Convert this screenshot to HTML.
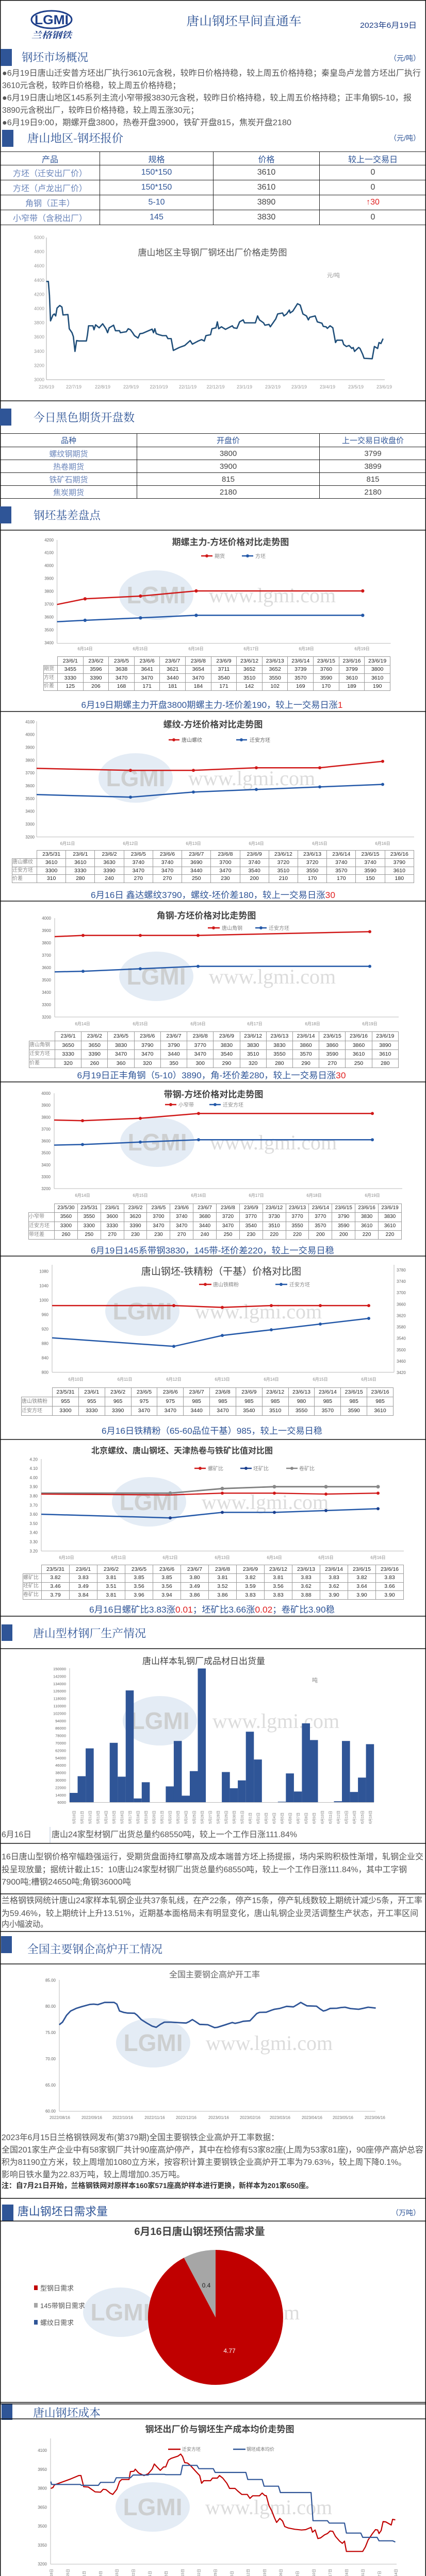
<!DOCTYPE html>
<html><head><meta charset="utf-8">
<style>
html{margin:0;padding:0;width:826px;height:5070px;overflow:hidden;background:#fff}
body{margin:0;padding:0;background:#fff;width:826px;height:5070px;position:relative;overflow:hidden;font-family:"Liberation Sans","Noto Sans CJK SC",sans-serif}
svg{position:absolute;left:0;top:0;display:block}
.t{position:absolute;border-collapse:collapse;table-layout:fixed;text-align:center}
.t td{border:1.5px solid #222;padding:0;white-space:nowrap;overflow:hidden}
.dt{position:absolute;border-collapse:collapse;table-layout:fixed;font-family:"Liberation Sans","Noto Sans CJK SC",sans-serif;font-size:10.5px;color:#222;text-align:center}
.dt td{border:1px solid #9a9a9a;padding:0;white-space:nowrap;overflow:hidden;line-height:1}
.dt tr:first-child td:first-child{border:none}
.dt td.l{color:#8a8a8a;text-align:left;font-size:10px}
</style></head><body>

<table class="t" style="left:0;top:294px;width:826px;font-size:16px">
<colgroup><col style="width:193px"><col style="width:220px"><col style="width:206px"><col style="width:207px"></colgroup>
<tr style="height:26px;color:#2f5597"><td>产品</td><td>规格</td><td>价格</td><td>较上一交易日</td></tr>
<tr style="height:29px"><td style="color:#6b86bb">方坯（迁安出厂价）</td><td style="color:#2f5597">150*150</td><td style="color:#444">3610</td><td style="color:#444">0</td></tr>
<tr style="height:29px"><td style="color:#6b86bb">方坯（卢龙出厂价）</td><td style="color:#2f5597">150*150</td><td style="color:#444">3610</td><td style="color:#444">0</td></tr>
<tr style="height:29px"><td style="color:#6b86bb">角钢（正丰）</td><td style="color:#2f5597">5-10</td><td style="color:#444">3890</td><td style="color:#e02020">↑30</td></tr>
<tr style="height:29px"><td style="color:#6b86bb">小窄带（含税出厂）</td><td style="color:#2f5597">145</td><td style="color:#444">3830</td><td style="color:#444">0</td></tr>
</table>

<table class="t" style="left:0;top:841px;width:826px;font-size:15px">
<colgroup><col style="width:265px"><col style="width:354px"><col style="width:207px"></colgroup>
<tr style="height:26px;color:#2f5597"><td>品种</td><td>开盘价</td><td>上一交易日收盘价</td></tr>
<tr style="height:25px"><td style="color:#6b86bb">螺纹钢期货</td><td style="color:#444">3800</td><td style="color:#444">3799</td></tr>
<tr style="height:25px"><td style="color:#6b86bb">热卷期货</td><td style="color:#444">3900</td><td style="color:#444">3899</td></tr>
<tr style="height:25px"><td style="color:#6b86bb">铁矿石期货</td><td style="color:#444">815</td><td style="color:#444">815</td></tr>
<tr style="height:25px"><td style="color:#6b86bb">焦炭期货</td><td style="color:#444">2180</td><td style="color:#444">2180</td></tr>
</table>

<table class="dt" style="left:84px;top:1274px;width:673px">
<colgroup><col style="width:27px"><col span="13"></colgroup>
<tr style="height:16.5px"><td></td><td>23/6/1</td><td>23/6/2</td><td>23/6/5</td><td>23/6/6</td><td>23/6/7</td><td>23/6/8</td><td>23/6/9</td><td>23/6/12</td><td>23/6/13</td><td>23/6/14</td><td>23/6/15</td><td>23/6/16</td><td>23/6/19</td></tr>
<tr style="height:16.5px"><td class="l">期货</td><td>3455</td><td>3596</td><td>3638</td><td>3641</td><td>3621</td><td>3654</td><td>3711</td><td>3652</td><td>3652</td><td>3739</td><td>3760</td><td>3799</td><td>3800</td></tr>
<tr style="height:16.5px"><td class="l">方坯</td><td>3330</td><td>3390</td><td>3470</td><td>3470</td><td>3440</td><td>3470</td><td>3540</td><td>3510</td><td>3550</td><td>3570</td><td>3590</td><td>3610</td><td>3610</td></tr>
<tr style="height:16.5px"><td class="l">价差</td><td>125</td><td>206</td><td>168</td><td>171</td><td>181</td><td>184</td><td>171</td><td>142</td><td>102</td><td>169</td><td>170</td><td>189</td><td>190</td></tr>
</table>

<table class="dt" style="left:23px;top:1650px;width:780px">
<colgroup><col style="width:48px"><col span="13"></colgroup>
<tr style="height:15.75px"><td></td><td>23/5/31</td><td>23/6/1</td><td>23/6/2</td><td>23/6/5</td><td>23/6/6</td><td>23/6/7</td><td>23/6/8</td><td>23/6/9</td><td>23/6/12</td><td>23/6/13</td><td>23/6/14</td><td>23/6/15</td><td>23/6/16</td></tr>
<tr style="height:15.75px"><td class="l">唐山螺纹</td><td>3610</td><td>3610</td><td>3630</td><td>3740</td><td>3740</td><td>3690</td><td>3700</td><td>3740</td><td>3720</td><td>3720</td><td>3740</td><td>3740</td><td>3790</td></tr>
<tr style="height:15.75px"><td class="l">迁安方坯</td><td>3300</td><td>3330</td><td>3390</td><td>3470</td><td>3470</td><td>3440</td><td>3470</td><td>3540</td><td>3510</td><td>3550</td><td>3570</td><td>3590</td><td>3610</td></tr>
<tr style="height:15.75px"><td class="l">价差</td><td>310</td><td>280</td><td>240</td><td>270</td><td>270</td><td>250</td><td>230</td><td>200</td><td>210</td><td>170</td><td>170</td><td>150</td><td>180</td></tr>
</table>

<table class="dt" style="left:56px;top:2002px;width:717px">
<colgroup><col style="width:50px"><col span="13"></colgroup>
<tr style="height:17.5px"><td></td><td>23/6/1</td><td>23/6/2</td><td>23/6/5</td><td>23/6/6</td><td>23/6/7</td><td>23/6/8</td><td>23/6/9</td><td>23/6/12</td><td>23/6/13</td><td>23/6/14</td><td>23/6/15</td><td>23/6/16</td><td>23/6/19</td></tr>
<tr style="height:17.5px"><td class="l">唐山角钢</td><td>3650</td><td>3650</td><td>3830</td><td>3790</td><td>3790</td><td>3770</td><td>3830</td><td>3830</td><td>3830</td><td>3860</td><td>3860</td><td>3860</td><td>3890</td></tr>
<tr style="height:17.5px"><td class="l">迁安方坯</td><td>3330</td><td>3390</td><td>3470</td><td>3470</td><td>3440</td><td>3470</td><td>3540</td><td>3510</td><td>3550</td><td>3570</td><td>3590</td><td>3610</td><td>3610</td></tr>
<tr style="height:17.5px"><td class="l">价差</td><td>320</td><td>260</td><td>360</td><td>320</td><td>350</td><td>300</td><td>290</td><td>320</td><td>280</td><td>290</td><td>270</td><td>250</td><td>280</td></tr>
</table>

<table class="dt" style="left:55px;top:2336px;width:724px;font-size:10px">
<colgroup><col style="width:50px"><col span="15"></colgroup>
<tr style="height:17.25px"><td></td><td>23/5/30</td><td>23/5/31</td><td>23/6/1</td><td>23/6/2</td><td>23/6/5</td><td>23/6/6</td><td>23/6/7</td><td>23/6/8</td><td>23/6/9</td><td>23/6/12</td><td>23/6/13</td><td>23/6/14</td><td>23/6/15</td><td>23/6/16</td><td>23/6/19</td></tr>
<tr style="height:17.25px"><td class="l">小窄带</td><td>3560</td><td>3550</td><td>3600</td><td>3620</td><td>3700</td><td>3740</td><td>3680</td><td>3720</td><td>3770</td><td>3730</td><td>3770</td><td>3770</td><td>3790</td><td>3830</td><td>3830</td></tr>
<tr style="height:17.25px"><td class="l">迁安方坯</td><td>3300</td><td>3300</td><td>3330</td><td>3390</td><td>3470</td><td>3470</td><td>3440</td><td>3470</td><td>3540</td><td>3510</td><td>3550</td><td>3570</td><td>3590</td><td>3610</td><td>3610</td></tr>
<tr style="height:17.25px"><td class="l">带坯差</td><td>260</td><td>250</td><td>270</td><td>230</td><td>230</td><td>270</td><td>240</td><td>250</td><td>230</td><td>220</td><td>220</td><td>200</td><td>200</td><td>220</td><td>220</td></tr>
</table>

<table class="dt" style="left:41px;top:2693px;width:722px">
<colgroup><col style="width:60px"><col span="13"></colgroup>
<tr style="height:18px"><td></td><td>23/5/31</td><td>23/6/1</td><td>23/6/2</td><td>23/6/5</td><td>23/6/6</td><td>23/6/7</td><td>23/6/8</td><td>23/6/9</td><td>23/6/12</td><td>23/6/13</td><td>23/6/14</td><td>23/6/15</td><td>23/6/16</td></tr>
<tr style="height:18px"><td class="l">唐山铁精粉</td><td>955</td><td>955</td><td>965</td><td>975</td><td>975</td><td>985</td><td>985</td><td>985</td><td>985</td><td>980</td><td>985</td><td>985</td><td>985</td></tr>
<tr style="height:18px"><td class="l">迁安方坯</td><td>3300</td><td>3330</td><td>3390</td><td>3470</td><td>3470</td><td>3440</td><td>3470</td><td>3540</td><td>3510</td><td>3550</td><td>3570</td><td>3590</td><td>3610</td></tr>
</table>

<table class="dt" style="left:44px;top:3037px;width:739px">
<colgroup><col style="width:36px"><col span="13"></colgroup>
<tr style="height:16.75px"><td></td><td>23/5/31</td><td>23/6/1</td><td>23/6/2</td><td>23/6/5</td><td>23/6/6</td><td>23/6/7</td><td>23/6/8</td><td>23/6/9</td><td>23/6/12</td><td>23/6/13</td><td>23/6/14</td><td>23/6/15</td><td>23/6/16</td></tr>
<tr style="height:16.75px"><td class="l">螺矿比</td><td>3.82</td><td>3.83</td><td>3.81</td><td>3.85</td><td>3.85</td><td>3.80</td><td>3.81</td><td>3.82</td><td>3.81</td><td>3.83</td><td>3.83</td><td>3.82</td><td>3.83</td></tr>
<tr style="height:16.75px"><td class="l">坯矿比</td><td>3.46</td><td>3.49</td><td>3.51</td><td>3.56</td><td>3.56</td><td>3.49</td><td>3.52</td><td>3.59</td><td>3.56</td><td>3.62</td><td>3.62</td><td>3.64</td><td>3.66</td></tr>
<tr style="height:16.75px"><td class="l">卷矿比</td><td>3.79</td><td>3.84</td><td>3.81</td><td>3.96</td><td>3.94</td><td>3.86</td><td>3.86</td><td>3.83</td><td>3.83</td><td>3.88</td><td>3.90</td><td>3.90</td><td>3.90</td></tr>
</table>

<svg width="826" height="5070" viewBox="0 0 826 5070" xmlns="http://www.w3.org/2000/svg" font-family="Liberation Sans, Noto Sans CJK SC, sans-serif" style="pointer-events:none" overflow="hidden">
<defs>
<g id="wm">
<ellipse cx="0" cy="0" rx="72" ry="48" fill="#dbe6f2" opacity="0.75"/>
<text x="0" y="16" text-anchor="middle" font-size="46" font-weight="bold" fill="#c8c8c8" opacity="0.8">LGMI</text>
<text x="225" y="14" text-anchor="middle" font-family="Liberation Serif, serif" font-size="40" fill="#d4d4d4" opacity="0.8">www.lgmi.com</text>
</g>
</defs>
<rect x="0.75" y="0.75" width="824.5" height="5068.5" fill="none" stroke="#111" stroke-width="1.5"/>

<ellipse cx="100" cy="38" rx="39" ry="17" fill="none" stroke="#1e3f8a" stroke-width="3"/>
<text x="100" y="47" text-anchor="middle" font-size="25" font-weight="bold" fill="#1e3f8a" textLength="66" lengthAdjust="spacingAndGlyphs">LGMI</text>
<text x="100" y="74" text-anchor="middle" font-family="Noto Serif CJK SC, serif" font-size="17" font-weight="bold" font-style="italic" fill="#1e3f8a" textLength="78" lengthAdjust="spacingAndGlyphs">兰格钢铁</text>
<text x="473" y="49" text-anchor="middle" font-family="Noto Serif CJK SC, serif" font-size="24" fill="#2f5597" textLength="223" lengthAdjust="spacingAndGlyphs">唐山钢坯早间直通车</text>
<text x="808" y="54" text-anchor="end" font-size="15" fill="#1f3f86" textLength="110" lengthAdjust="spacingAndGlyphs">2023年6月19日</text>

<g fill="#2f5597">
<rect x="1" y="95" width="22" height="33"/>
<rect x="4" y="252" width="22" height="33"/>
<rect x="0" y="793" width="22" height="33"/>
<rect x="0" y="983" width="22" height="33"/>
<rect x="3" y="3153" width="21" height="32"/>
<rect x="2" y="3758" width="21" height="33"/>
<rect x="4" y="4279" width="22" height="32"/>
<rect x="3" y="4665" width="21" height="32"/>
</g>
<g font-family="Noto Serif CJK SC, serif" font-size="22" fill="#2f5597">
<text x="42" y="119" textLength="129" lengthAdjust="spacingAndGlyphs">钢坯市场概况</text>
<text x="53" y="276" textLength="186" lengthAdjust="spacingAndGlyphs">唐山地区-钢坯报价</text>
<text x="65" y="818" textLength="196" lengthAdjust="spacingAndGlyphs">今日黑色期货开盘数</text>
<text x="65" y="1008" textLength="130" lengthAdjust="spacingAndGlyphs">钢坯基差盘点</text>
<text x="64" y="3178" textLength="219" lengthAdjust="spacingAndGlyphs">唐山型材钢厂生产情况</text>
<text x="53" y="3791" textLength="262" lengthAdjust="spacingAndGlyphs">全国主要钢企高炉开工情况</text>
<text x="34" y="4300" font-family="Liberation Sans, Noto Sans CJK SC, sans-serif" textLength="175" lengthAdjust="spacingAndGlyphs">唐山钢坯日需求量</text>
<text x="64" y="4691" textLength="131" lengthAdjust="spacingAndGlyphs">唐山钢坯成本</text>
</g>
<g font-size="14" fill="#2f5597" text-anchor="end">
<text x="815" y="118">（元/吨）</text>
<text x="815" y="273">（元/吨）</text>
<text x="815" y="4300">（万吨）</text>
</g>

<g font-size="16" fill="#555">
<text x="4" y="147" textLength="812" lengthAdjust="spacingAndGlyphs">●6月19日唐山迁安普方坯出厂执行3610元含税，较昨日价格持稳，较上周五价格持稳；秦皇岛卢龙普方坯出厂执行</text>
<text x="4" y="171" textLength="346" lengthAdjust="spacingAndGlyphs">3610元含税，较昨日价格稳，较上周五价格持稳；</text>
<text x="4" y="195" textLength="794" lengthAdjust="spacingAndGlyphs">●6月19日唐山地区145系列主流小窄带报3830元含税，较昨日价格持稳，较上周五价格持稳；正丰角钢5-10，报</text>
<text x="4" y="219" textLength="381" lengthAdjust="spacingAndGlyphs">3890元含税出厂，较昨日价格持稳，较上周五涨30元；</text>
<text x="4" y="243" textLength="561" lengthAdjust="spacingAndGlyphs">●6月19日9:00，期螺开盘3800，热卷开盘3900，铁矿开盘815，焦炭开盘2180</text>
</g>

<g stroke="#111" stroke-width="1.5">
<line x1="0" y1="778" x2="826" y2="778"/>
<line x1="0" y1="1029" x2="826" y2="1029"/>
<line x1="0" y1="1381" x2="826" y2="1381"/>
<line x1="0" y1="1749" x2="826" y2="1749"/>
<line x1="0" y1="2100" x2="826" y2="2100"/>
<line x1="0" y1="2438" x2="826" y2="2438"/>
<line x1="0" y1="2794" x2="826" y2="2794"/>
<line x1="0" y1="3137" x2="826" y2="3137"/>
<line x1="0" y1="3200" x2="826" y2="3200"/>
<line x1="0" y1="3578" x2="826" y2="3578"/>
<line x1="0" y1="3676" x2="826" y2="3676"/>
<line x1="0" y1="3749" x2="826" y2="3749"/>
<line x1="0" y1="3812" x2="826" y2="3812"/>
<line x1="0" y1="4267" x2="826" y2="4267"/>
<line x1="0" y1="4311" x2="826" y2="4311"/>
<line x1="0" y1="4663" x2="826" y2="4663"/>
<line x1="0" y1="4666" x2="826" y2="4666"/>
<line x1="0" y1="4695" x2="826" y2="4695"/>
</g>

<g font-size="9" fill="#999" text-anchor="end">
<text x="86" y="464">5000</text><text x="86" y="491.6">4800</text><text x="86" y="519.2">4600</text><text x="86" y="546.8">4400</text><text x="86" y="574.4">4200</text><text x="86" y="602">4000</text><text x="86" y="629.6">3800</text><text x="86" y="657.2">3600</text><text x="86" y="684.8">3400</text><text x="86" y="712.4">3200</text><text x="86" y="740">3000</text>
</g>
<g font-size="9" fill="#999" text-anchor="middle">
<text x="90" y="754">22/6/19</text><text x="143" y="754">22/7/19</text><text x="199" y="754">22/8/19</text><text x="254" y="754">22/9/19</text><text x="308" y="754">22/10/19</text><text x="364" y="754">22/11/19</text><text x="418" y="754">22/12/19</text><text x="474" y="754">23/1/19</text><text x="529" y="754">23/2/19</text><text x="580" y="754">23/3/19</text><text x="635" y="754">23/4/19</text><text x="690" y="754">23/5/19</text><text x="745" y="754">23/6/19</text>
</g>
<text x="412" y="496" text-anchor="middle" font-size="17" fill="#555">唐山地区主导钢厂钢坯出厂价格走势图</text>
<text x="634" y="538" font-size="11" fill="#999">元/吨</text>
<g stroke="#aaa" stroke-width="1">
<line x1="90" y1="461" x2="90" y2="737"/><line x1="90" y1="737" x2="746" y2="737"/>
</g>
<g transform="translate(0,420) scale(0.52679,0.38265)">
<polyline vector-effect="non-scaling-stroke" fill="none" stroke="#1f4e79" stroke-width="2.6" stroke-linejoin="round" points="170,330 178,330 182,400 186,530 195,500 200,495 205,505 210,465 220,452 228,460 232,500 250,498 255,570 265,590 270,610 276,685 282,630 290,632 318,632 322,600 326,555 342,555 346,575 352,550 365,565 378,545 390,570 396,590 402,565 418,552 425,580 440,580 443,590 465,585 472,570 480,575 488,590 495,605 508,617 515,595 525,593 560,572 565,590 570,570 575,595 585,600 598,605 612,605 618,620 630,620 638,680 660,665 680,655 700,630 708,648 730,632 742,625 752,632 758,605 775,600 780,570 795,565 800,535 805,570 815,560 830,573 855,555 860,565 872,568 882,535 895,525 900,540 940,540 948,505 955,525 970,540 975,552 990,548 995,560 1005,540 1015,520 1022,495 1040,490 1045,505 1055,495 1065,475 1068,490 1078,480 1085,465 1095,443 1105,450 1115,495 1128,505 1135,525 1140,512 1160,505 1168,535 1185,542 1190,558 1200,560 1205,568 1215,555 1225,565 1235,640 1240,628 1260,628 1265,650 1275,660 1285,655 1295,670 1300,665 1305,685 1320,665 1325,670 1335,700 1340,720 1370,722 1378,660 1390,670 1395,640 1402,645 1410,620"/>
</g>

<use href="#wm" x="303" y="1155"/>
<text x="447" y="1058" text-anchor="middle" font-size="17" font-weight="bold" fill="#444">期螺主力-方坯价格对比走势图</text>
<g font-size="8" fill="#666" text-anchor="end">
<text x="104" y="1051">4200</text><text x="104" y="1075.3">4100</text><text x="104" y="1100.7">4000</text><text x="104" y="1125.7">3900</text><text x="104" y="1150.3">3800</text><text x="104" y="1175.7">3700</text><text x="104" y="1200.3">3600</text><text x="104" y="1225.7">3500</text><text x="104" y="1250.7">3400</text>
</g>
<g font-size="8" fill="#888" text-anchor="middle">
<text x="165" y="1262">6月14日</text><text x="272" y="1262">6月15日</text><text x="380" y="1262">6月16日</text><text x="487" y="1262">6月17日</text><text x="594" y="1262">6月18日</text><text x="702" y="1262">6月19日</text>
</g>
<line x1="390" y1="1079" x2="412" y2="1079" stroke="#d01818" stroke-width="2.5"/><circle cx="401" cy="1079" r="3" fill="#d01818"/>
<text x="416" y="1083" font-size="10" fill="#888">期货</text>
<line x1="469" y1="1079" x2="491" y2="1079" stroke="#2358a8" stroke-width="2.5"/><circle cx="480" cy="1079" r="3" fill="#2358a8"/>
<text x="495" y="1083" font-size="10" fill="#888">方坯</text>
<g stroke="#bbb" stroke-width="1"><line x1="110.6" y1="1048" x2="110.6" y2="1248.7"/><line x1="110.6" y1="1248.7" x2="757.5" y2="1248.7"/></g>
<polyline fill="none" stroke="#d01818" stroke-width="2.5" points="110.6,1173.3 164.9,1162.3 272.4,1157 380.4,1147 703.3,1147"/>
<polyline fill="none" stroke="#2358a8" stroke-width="2.5" points="110.6,1206.7 164.9,1204 272.4,1199.3 380.4,1194.3 703.3,1194.3"/>
<g fill="#d01818"><circle cx="164.9" cy="1162.3" r="3.2"/><circle cx="272.4" cy="1157" r="3.2"/><circle cx="380.4" cy="1147" r="3.2"/><circle cx="703.3" cy="1147" r="3.2"/></g>
<g fill="#2358a8"><circle cx="164.9" cy="1204" r="3.2"/><circle cx="272.4" cy="1199.3" r="3.2"/><circle cx="380.4" cy="1194.3" r="3.2"/><circle cx="703.3" cy="1194.3" r="3.2"/></g>
<text x="411" y="1374" text-anchor="middle" font-size="17" fill="#2f5597" textLength="507" lengthAdjust="spacingAndGlyphs">6月19日期螺主力开盘3800期螺主力-坯价差190，较上一交易日涨<tspan fill="#e02020">1</tspan></text>

<use href="#wm" x="263" y="1510"/>
<text x="413" y="1412" text-anchor="middle" font-size="17" font-weight="bold" fill="#444">螺纹-方坯价格对比走势图</text>
<g font-size="8" fill="#666" text-anchor="end">
<text x="67" y="1403.8">4100</text><text x="67" y="1428.6">4000</text><text x="67" y="1453.5">3900</text><text x="67" y="1478.3">3800</text><text x="67" y="1503.1">3700</text><text x="67" y="1528">3600</text><text x="67" y="1552.8">3500</text><text x="67" y="1577.7">3400</text><text x="67" y="1602.5">3300</text><text x="67" y="1627.3">3200</text>
</g>
<g font-size="8" fill="#888" text-anchor="middle">
<text x="131" y="1640">6月11日</text><text x="253" y="1640">6月12日</text><text x="375" y="1640">6月13日</text><text x="497" y="1640">6月14日</text><text x="620" y="1640">6月15日</text><text x="742" y="1640">6月16日</text>
</g>
<line x1="327" y1="1436" x2="348" y2="1436" stroke="#d01818" stroke-width="2.5"/><circle cx="337" cy="1436" r="3" fill="#d01818"/>
<text x="352" y="1440" font-size="10" fill="#666">唐山螺纹</text>
<line x1="458" y1="1436" x2="479" y2="1436" stroke="#2358a8" stroke-width="2.5"/><circle cx="468" cy="1436" r="3" fill="#2358a8"/>
<text x="484" y="1440" font-size="10" fill="#666">迁安方坯</text>
<g stroke="#bbb" stroke-width="1"><line x1="71" y1="1400" x2="71" y2="1624.5"/><line x1="71" y1="1624.5" x2="803" y2="1624.5"/></g>
<polyline fill="none" stroke="#d01818" stroke-width="2.5" points="71,1491.4 253,1495.2 375,1495.2 497,1490.2 620,1490.2 742,1477.8"/>
<polyline fill="none" stroke="#2358a8" stroke-width="2.5" points="71,1542.3 253,1547.3 375,1537.4 497,1532.4 620,1527.4 742,1522.5"/>
<g fill="#d01818"><circle cx="253" cy="1495.2" r="3"/><circle cx="375" cy="1495.2" r="3"/><circle cx="497" cy="1490.2" r="3"/><circle cx="620" cy="1490.2" r="3"/><circle cx="742" cy="1477.8" r="3"/></g>
<g fill="#2358a8"><circle cx="253" cy="1547.3" r="3"/><circle cx="375" cy="1537.4" r="3"/><circle cx="497" cy="1532.4" r="3"/><circle cx="620" cy="1527.4" r="3"/><circle cx="742" cy="1522.5" r="3"/></g>
<text x="413" y="1743" text-anchor="middle" font-size="17" fill="#2f5597" textLength="474" lengthAdjust="spacingAndGlyphs">6月16日 鑫达螺纹3790，螺纹-坯价差180，较上一交易日涨<tspan fill="#e02020">30</tspan></text>

<use href="#wm" x="303" y="1895"/>
<text x="400" y="1783" text-anchor="middle" font-size="17" font-weight="bold" fill="#444">角钢-方坯价格对比走势图</text>
<g font-size="8" fill="#666" text-anchor="end">
<text x="99" y="1785">4000</text><text x="99" y="1809">3900</text><text x="99" y="1833">3800</text><text x="99" y="1857">3700</text><text x="99" y="1881">3600</text><text x="99" y="1905">3500</text><text x="99" y="1929">3400</text><text x="99" y="1953">3300</text><text x="99" y="1977">3200</text>
</g>
<g font-size="8" fill="#888" text-anchor="middle">
<text x="160" y="1990">6月14日</text><text x="272" y="1990">6月15日</text><text x="384" y="1990">6月16日</text><text x="494" y="1990">6月17日</text><text x="606" y="1990">6月18日</text><text x="717" y="1990">6月19日</text>
</g>
<line x1="403" y1="1801" x2="426" y2="1801" stroke="#d01818" stroke-width="2.5"/><circle cx="414" cy="1801" r="3" fill="#d01818"/>
<text x="430" y="1805" font-size="10" fill="#888">唐山角钢</text>
<line x1="495" y1="1801" x2="517" y2="1801" stroke="#2358a8" stroke-width="2.5"/><circle cx="506" cy="1801" r="3" fill="#2358a8"/>
<text x="521" y="1805" font-size="10" fill="#888">迁安方坯</text>
<g stroke="#bbb" stroke-width="1"><line x1="106" y1="1782" x2="106" y2="1974"/><line x1="106" y1="1974" x2="773" y2="1974"/></g>
<polyline fill="none" stroke="#d01818" stroke-width="2.5" points="106,1818 161,1815.6 272,1815.6 384,1815.6 717,1808.4"/>
<polyline fill="none" stroke="#2358a8" stroke-width="2.5" points="106,1886.4 161,1885.2 272,1880.4 384,1875.6 717,1875.6"/>
<g fill="#d01818"><circle cx="161" cy="1815.6" r="3"/><circle cx="272" cy="1815.6" r="3"/><circle cx="384" cy="1815.6" r="3"/><circle cx="717" cy="1808.4" r="3"/></g>
<g fill="#2358a8"><circle cx="161" cy="1885.2" r="3"/><circle cx="272" cy="1880.4" r="3"/><circle cx="384" cy="1875.6" r="3"/><circle cx="717" cy="1875.6" r="3"/></g>
<text x="410" y="2093" text-anchor="middle" font-size="17" fill="#2f5597" textLength="521" lengthAdjust="spacingAndGlyphs">6月19日正丰角钢（5-10）3890，角-坯价差280，较上一交易日涨<tspan fill="#e02020">30</tspan></text>

<use href="#wm" x="305" y="2217"/>
<text x="414" y="2130" text-anchor="middle" font-size="17" font-weight="bold" fill="#444">带钢-方坯价格对比走势图</text>
<g font-size="8" fill="#666" text-anchor="end">
<text x="98" y="2125">4000</text><text x="98" y="2148.1">3900</text><text x="98" y="2171.3">3800</text><text x="98" y="2194.4">3700</text><text x="98" y="2217.5">3600</text><text x="98" y="2240.7">3500</text><text x="98" y="2263.8">3400</text><text x="98" y="2286.9">3300</text><text x="98" y="2310">3200</text>
</g>
<g font-size="8" fill="#888" text-anchor="middle">
<text x="160" y="2323">6月14日</text><text x="272" y="2323">6月15日</text><text x="385" y="2323">6月16日</text><text x="497" y="2323">6月17日</text><text x="609" y="2323">6月18日</text><text x="722" y="2323">6月19日</text>
</g>
<line x1="320" y1="2144" x2="342" y2="2144" stroke="#d01818" stroke-width="2.5"/><circle cx="331" cy="2144" r="3" fill="#d01818"/>
<text x="346" y="2148" font-size="10" fill="#888">小窄带</text>
<line x1="406" y1="2144" x2="428" y2="2144" stroke="#2358a8" stroke-width="2.5"/><circle cx="417" cy="2144" r="3" fill="#2358a8"/>
<text x="432" y="2148" font-size="10" fill="#888">迁安方坯</text>
<g stroke="#bbb" stroke-width="1"><line x1="105" y1="2122" x2="105" y2="2307"/><line x1="105" y1="2307" x2="780" y2="2307"/></g>
<polyline fill="none" stroke="#d01818" stroke-width="2.5" points="105,2174 160,2175.2 272,2170.6 385,2161.3 722,2161.3"/>
<polyline fill="none" stroke="#2358a8" stroke-width="2.5" points="105,2222.6 160,2221.5 272,2216.8 385,2212.2 722,2212.2"/>
<g fill="#d01818"><circle cx="160" cy="2175.2" r="3"/><circle cx="272" cy="2170.6" r="3"/><circle cx="385" cy="2161.3" r="3"/><circle cx="722" cy="2161.3" r="3"/></g>
<g fill="#2358a8"><circle cx="160" cy="2221.5" r="3"/><circle cx="272" cy="2216.8" r="3"/><circle cx="385" cy="2212.2" r="3"/><circle cx="722" cy="2212.2" r="3"/></g>
<text x="412" y="2433" text-anchor="middle" font-size="17" fill="#2f5597" textLength="472" lengthAdjust="spacingAndGlyphs">6月19日145系带钢3830，145带-坯价差220，较上一交易日稳</text>

<use href="#wm" x="276" y="2545"/>
<text x="429" y="2474" text-anchor="middle" font-size="19" fill="#444">唐山钢坯-铁精粉（干基）价格对比图</text>
<g font-size="8" fill="#666" text-anchor="end">
<text x="94" y="2470.7">1080</text><text x="94" y="2498.6">1040</text><text x="94" y="2526.6">1000</text><text x="94" y="2554.5">960</text><text x="94" y="2582.5">920</text><text x="94" y="2610.4">880</text><text x="94" y="2638.4">840</text><text x="94" y="2666.3">800</text>
</g>
<g font-size="8" fill="#666">
<text x="769" y="2468">3780</text><text x="769" y="2490.1">3740</text><text x="769" y="2512.2">3700</text><text x="769" y="2534.3">3660</text><text x="769" y="2556.4">3620</text><text x="769" y="2578.6">3580</text><text x="769" y="2600.7">3540</text><text x="769" y="2622.8">3500</text><text x="769" y="2644.9">3460</text><text x="769" y="2667">3420</text>
</g>
<g font-size="8" fill="#888" text-anchor="middle">
<text x="147" y="2680">6月10日</text><text x="242" y="2680">6月11日</text><text x="337" y="2680">6月12日</text><text x="431" y="2680">6月13日</text><text x="526" y="2680">6月14日</text><text x="621" y="2680">6月15日</text><text x="715" y="2680">6月16日</text>
</g>
<line x1="386" y1="2493" x2="410" y2="2493" stroke="#d01818" stroke-width="2.5"/><circle cx="398" cy="2493" r="3" fill="#d01818"/>
<text x="413" y="2497" font-size="10" fill="#888">唐山铁精粉</text>
<line x1="534" y1="2493" x2="557" y2="2493" stroke="#2358a8" stroke-width="2.5"/><circle cx="545" cy="2493" r="3" fill="#2358a8"/>
<text x="561" y="2497" font-size="10" fill="#888">迁安方坯</text>
<g stroke="#bbb" stroke-width="1"><line x1="101" y1="2455" x2="101" y2="2663.5"/><line x1="101" y1="2663.5" x2="764" y2="2663.5"/><line x1="764" y1="2455" x2="764" y2="2663.5"/></g>
<polyline fill="none" stroke="#d01818" stroke-width="2.5" points="101,2534.1 337,2534.1 431,2537.6 526,2534.1 621,2534.1 715,2534.1"/>
<polyline fill="none" stroke="#2358a8" stroke-width="2.5" points="101,2596.7 337,2613.3 431,2592.1 526,2581.1 621,2570 715,2559"/>
<g fill="#d01818"><circle cx="337" cy="2534.1" r="3"/><circle cx="431" cy="2537.6" r="3"/><circle cx="526" cy="2534.1" r="3"/><circle cx="621" cy="2534.1" r="3"/><circle cx="715" cy="2534.1" r="3"/></g>
<g fill="#2358a8"><circle cx="337" cy="2613.3" r="3"/><circle cx="431" cy="2592.1" r="3"/><circle cx="526" cy="2581.1" r="3"/><circle cx="621" cy="2570" r="3"/><circle cx="715" cy="2559" r="3"/></g>
<text x="411" y="2783" text-anchor="middle" font-size="17" fill="#2f5597" textLength="428" lengthAdjust="spacingAndGlyphs">6月16日铁精粉（65-60品位干基）985，较上一交易日稳</text>

<use href="#wm" x="289" y="2915"/>
<text x="353" y="2821" text-anchor="middle" font-size="16" font-weight="bold" fill="#444">北京螺纹、唐山钢坯、天津热卷与铁矿比值对比图</text>
<g font-size="8" fill="#666" text-anchor="end">
<text x="73" y="2835.3">4.20</text><text x="73" y="2853.1">4.10</text><text x="73" y="2870.9">4.00</text><text x="73" y="2888.7">3.90</text><text x="73" y="2906.5">3.80</text><text x="73" y="2924.3">3.70</text><text x="73" y="2942.1">3.60</text><text x="73" y="2959.9">3.50</text><text x="73" y="2977.7">3.40</text><text x="73" y="2995.5">3.30</text><text x="73" y="3013.3">3.20</text>
</g>
<g font-size="8" fill="#888" text-anchor="middle">
<text x="129" y="3026">6月10日</text><text x="230" y="3026">6月11日</text><text x="330" y="3026">6月12日</text><text x="431" y="3026">6月13日</text><text x="532" y="3026">6月14日</text><text x="632" y="3026">6月15日</text><text x="733" y="3026">6月16日</text>
</g>
<line x1="377" y1="2850" x2="399" y2="2850" stroke="#d01818" stroke-width="2.5"/><circle cx="388" cy="2850" r="3" fill="#d01818"/>
<text x="403" y="2854" font-size="10" fill="#888">螺矿比</text>
<line x1="466" y1="2850" x2="488" y2="2850" stroke="#1a3f8e" stroke-width="2.5"/><circle cx="477" cy="2850" r="3" fill="#1a3f8e"/>
<text x="491" y="2854" font-size="10" fill="#888">坯矿比</text>
<line x1="555" y1="2850" x2="577" y2="2850" stroke="#888" stroke-width="2.5"/><circle cx="566" cy="2850" r="3" fill="#888"/>
<text x="580" y="2854" font-size="10" fill="#888">卷矿比</text>
<g stroke="#bbb" stroke-width="1"><line x1="80" y1="2832" x2="80" y2="3010.5"/><line x1="80" y1="3010.5" x2="783" y2="3010.5"/></g>
<polyline fill="none" stroke="#808080" stroke-width="2.8" points="80,2898.2 330,2898.2 431,2889.3 532,2885.7 632,2885.7 733,2885.7"/>
<polyline fill="none" stroke="#d01818" stroke-width="2.3" points="80,2900 330,2901.7 431,2898.2 532,2898.2 632,2900 733,2898.2"/>
<polyline fill="none" stroke="#2358a8" stroke-width="2.5" points="80,2939.1 330,2946.2 431,2935.5 532,2935.5 632,2932 733,2928.4"/>
<g fill="#888"><circle cx="330" cy="2898.2" r="3.5"/><circle cx="431" cy="2889.3" r="3.5"/><circle cx="532" cy="2885.7" r="3.5"/><circle cx="632" cy="2885.7" r="3.5"/><circle cx="733" cy="2885.7" r="3.5"/></g>
<g fill="#d01818"><circle cx="431" cy="2898.2" r="3"/><circle cx="532" cy="2898.2" r="3"/><circle cx="632" cy="2900" r="3"/><circle cx="733" cy="2898.2" r="3"/></g>
<g fill="#1a3f8e"><circle cx="330" cy="2946.2" r="3"/><circle cx="431" cy="2935.5" r="3"/><circle cx="532" cy="2935.5" r="3"/><circle cx="632" cy="2932" r="3"/><circle cx="733" cy="2928.4" r="3"/></g>
<text x="411" y="3130" text-anchor="middle" font-size="17" fill="#2f5597" textLength="476" lengthAdjust="spacingAndGlyphs">6月16日螺矿比3.83涨<tspan fill="#e02020">0.01</tspan>；坯矿比3.66涨<tspan fill="#e02020">0.02</tspan>；卷矿比3.90稳</text>

<use href="#wm" x="310" y="3340"/>
<text x="395" y="3230" text-anchor="middle" font-size="17" fill="#444">唐山样本轧钢厂成品材日出货量</text>
<text x="605" y="3265" font-size="11" fill="#888">吨</text>
<g font-size="7.5" fill="#666" text-anchor="end">
<text x="128" y="3242">150000</text><text x="128" y="3256.4">142000</text><text x="128" y="3270.8">134000</text><text x="128" y="3285.2">126000</text><text x="128" y="3299.6">118000</text><text x="128" y="3314">110000</text><text x="128" y="3328.4">102000</text><text x="128" y="3342.8">94000</text><text x="128" y="3357.2">86000</text><text x="128" y="3371.6">78000</text><text x="128" y="3386">70000</text><text x="128" y="3400.4">62000</text><text x="128" y="3414.8">54000</text><text x="128" y="3429.2">46000</text><text x="128" y="3443.6">38000</text><text x="128" y="3458">30000</text><text x="128" y="3472.4">22000</text><text x="128" y="3486.8">14000</text><text x="128" y="3501">6000</text>
</g>
<g stroke="#bbb" stroke-width="1"><line x1="135" y1="3238" x2="135" y2="3498.5"/><line x1="135" y1="3498.5" x2="725" y2="3498.5"/></g>
<g fill="#2f5597">
<rect x="135" y="3480" width="15.6" height="18"/>
<rect x="150.5" y="3447.6" width="15.6" height="50.4"/>
<rect x="166.1" y="3393.6" width="15.6" height="104.4"/>
<rect x="212.7" y="3382.8" width="15.6" height="115.2"/>
<rect x="228.2" y="3448.5" width="15.6" height="49.5"/>
<rect x="243.7" y="3281.1" width="15.6" height="216.9"/>
<rect x="259.2" y="3490.8" width="15.6" height="7.2"/>
<rect x="274.8" y="3459.3" width="15.6" height="38.7"/>
<rect x="321.4" y="3467.4" width="15.6" height="30.6"/>
<rect x="336.9" y="3379.2" width="15.6" height="118.8"/>
<rect x="352.4" y="3485.4" width="15.6" height="12.6"/>
<rect x="368" y="3437.7" width="15.6" height="60.3"/>
<rect x="383.5" y="3238.5" width="15.6" height="259.5"/>
<rect x="430.1" y="3439.5" width="15.6" height="58.5"/>
<rect x="445.6" y="3471" width="15.6" height="27"/>
<rect x="461.1" y="3455.7" width="15.6" height="42.3"/>
<rect x="476.7" y="3361.2" width="15.6" height="136.8"/>
<rect x="492.2" y="3415.2" width="15.6" height="82.8"/>
<rect x="538.8" y="3497.1" width="15.6" height="0.9"/>
<rect x="554.3" y="3442.2" width="15.6" height="55.8"/>
<rect x="569.8" y="3477.3" width="15.6" height="20.7"/>
<rect x="585.4" y="3345" width="15.6" height="153"/>
<rect x="600.9" y="3377.4" width="15.6" height="120.6"/>
<rect x="647.5" y="3496.2" width="15.6" height="1.8"/>
<rect x="663" y="3379.2" width="15.6" height="118.8"/>
<rect x="678.6" y="3478.2" width="15.6" height="19.8"/>
<rect x="694.1" y="3450.3" width="15.6" height="47.7"/>
<rect x="709.6" y="3385.4" width="15.6" height="112.6"/>
</g>
<g font-size="7" fill="#777">
<text transform="translate(145.8,3540) rotate(-90)">5月10日</text>
<text transform="translate(161.3,3540) rotate(-90)">5月11日</text>
<text transform="translate(176.9,3540) rotate(-90)">5月12日</text>
<text transform="translate(192.4,3540) rotate(-90)">5月13日</text>
<text transform="translate(207.9,3540) rotate(-90)">5月14日</text>
<text transform="translate(223.5,3540) rotate(-90)">5月15日</text>
<text transform="translate(239,3540) rotate(-90)">5月16日</text>
<text transform="translate(254.5,3540) rotate(-90)">5月17日</text>
<text transform="translate(270,3540) rotate(-90)">5月18日</text>
<text transform="translate(285.6,3540) rotate(-90)">5月19日</text>
<text transform="translate(301.1,3540) rotate(-90)">5月20日</text>
<text transform="translate(316.6,3540) rotate(-90)">5月21日</text>
<text transform="translate(332.2,3540) rotate(-90)">5月22日</text>
<text transform="translate(347.7,3540) rotate(-90)">5月23日</text>
<text transform="translate(363.2,3540) rotate(-90)">5月24日</text>
<text transform="translate(378.8,3540) rotate(-90)">5月25日</text>
<text transform="translate(394.3,3540) rotate(-90)">5月26日</text>
<text transform="translate(409.8,3540) rotate(-90)">5月27日</text>
<text transform="translate(425.4,3540) rotate(-90)">5月28日</text>
<text transform="translate(440.9,3540) rotate(-90)">5月29日</text>
<text transform="translate(456.4,3540) rotate(-90)">5月30日</text>
<text transform="translate(471.9,3540) rotate(-90)">5月31日</text>
<text transform="translate(487.5,3540) rotate(-90)">6月1日</text>
<text transform="translate(503,3540) rotate(-90)">6月2日</text>
<text transform="translate(518.5,3540) rotate(-90)">6月3日</text>
<text transform="translate(534.1,3540) rotate(-90)">6月4日</text>
<text transform="translate(549.6,3540) rotate(-90)">6月5日</text>
<text transform="translate(565.1,3540) rotate(-90)">6月6日</text>
<text transform="translate(580.7,3540) rotate(-90)">6月7日</text>
<text transform="translate(596.2,3540) rotate(-90)">6月8日</text>
<text transform="translate(611.7,3540) rotate(-90)">6月9日</text>
<text transform="translate(627.3,3540) rotate(-90)">6月10日</text>
<text transform="translate(642.8,3540) rotate(-90)">6月11日</text>
<text transform="translate(658.3,3540) rotate(-90)">6月12日</text>
<text transform="translate(673.8,3540) rotate(-90)">6月13日</text>
<text transform="translate(689.4,3540) rotate(-90)">6月14日</text>
<text transform="translate(704.9,3540) rotate(-90)">6月15日</text>
<text transform="translate(720.4,3540) rotate(-90)">6月16日</text>
</g>
<line x1="97" y1="3546" x2="97" y2="3577" stroke="#b8c4d8" stroke-width="1"/>
<g font-size="16" fill="#555">
<text x="3" y="3566" textLength="58" lengthAdjust="spacingAndGlyphs">6月16日</text>
<text x="100" y="3566" textLength="476" lengthAdjust="spacingAndGlyphs">唐山24家型材钢厂出货总量约68550吨，较上一个工作日涨111.84%</text>
<text x="3" y="3609" textLength="818" lengthAdjust="spacingAndGlyphs">16日唐山型钢价格窄幅趋强运行，受期货盘面持红攀高及成本端普方坯上扬提振，场内采购积极性渐增，轧钢企业交</text>
<text x="3" y="3634" textLength="786" lengthAdjust="spacingAndGlyphs">投呈现放量；据统计截止15：10唐山24家型材钢厂出货总量约68550吨，较上一个工作日涨111.84%，其中工字钢</text>
<text x="3" y="3658" textLength="251" lengthAdjust="spacingAndGlyphs">7900吨;槽钢24650吨;角钢36000吨</text>
<text x="3" y="3694" textLength="816" lengthAdjust="spacingAndGlyphs">兰格钢铁网统计唐山24家样本轧钢企业共37条轧线，在产22条，停产15条，停产轧线数较上期统计减少5条，开工率</text>
<text x="3" y="3719" textLength="808" lengthAdjust="spacingAndGlyphs">为59.46%，较上期统计上升13.51%，近期基本面格局未有明显变化，唐山轧钢企业灵活调整生产状态，开工率区间</text>
<text x="3" y="3740" textLength="90" lengthAdjust="spacingAndGlyphs">内小幅波动。</text>
</g>

<use href="#wm" x="297" y="3965"/>
<text x="416" y="3838" text-anchor="middle" font-size="16" fill="#666">全国主要钢企高炉开工率</text>
<g font-size="8" fill="#666" text-anchor="end">
<text x="108" y="3846.3">85.00</text><text x="108" y="3897.2">80.00</text><text x="108" y="3948.1">75.00</text><text x="108" y="3999">70.00</text><text x="108" y="4049.8">65.00</text><text x="108" y="4100.7">60.00</text>
</g>
<g font-size="8" fill="#777" text-anchor="middle">
<text x="116" y="4113">2022/08/16</text><text x="178" y="4113">2022/09/16</text><text x="238" y="4113">2022/10/16</text><text x="300" y="4113">2022/11/16</text><text x="361" y="4113">2022/12/16</text><text x="424" y="4113">2023/01/16</text><text x="485" y="4113">2023/02/16</text><text x="543" y="4113">2023/03/16</text><text x="605" y="4113">2023/04/16</text><text x="665" y="4113">2023/05/16</text><text x="727" y="4113">2023/06/16</text>
</g>
<g stroke="#bbb" stroke-width="1"><line x1="115" y1="3843" x2="115" y2="4098"/><line x1="115" y1="4098" x2="728" y2="4098"/></g>
<g transform="translate(0,3720) scale(0.52679,0.33333)">
<polyline vector-effect="non-scaling-stroke" fill="none" stroke="#2f5597" stroke-width="2.8" stroke-linejoin="round" points="218,630 230,615 245,575 260,550 280,535 300,525 330,512 345,510 360,513 385,500 420,500 430,510 440,550 455,558 470,562 495,563 505,575 520,600 540,620 560,638 575,645 590,628 605,615 630,615 660,618 685,620 695,613 708,600 720,612 735,628 765,630 790,647 800,645 830,630 855,617 865,622 880,617 895,610 920,607 930,590 945,565 955,558 980,557 1000,545 1010,540 1030,535 1055,523 1080,526 1095,512 1107,500 1118,510 1130,520 1165,522 1178,538 1190,550 1200,546 1215,535 1240,534 1255,530 1270,528 1290,536 1320,540 1335,535 1355,528 1383,533"/>
</g>
<g font-size="16" fill="#555">
<text x="3" y="4154" textLength="538" lengthAdjust="spacingAndGlyphs">2023年6月15日兰格钢铁网发布(第379期)全国主要钢铁企业高炉开工率数据：</text>
<text x="3" y="4178" textLength="818" lengthAdjust="spacingAndGlyphs">全国201家生产企业中有58家钢厂共计90座高炉停产，其中在检修有53家82座(上周为53家81座)，90座停产高炉总容</text>
<text x="3" y="4202" textLength="785" lengthAdjust="spacingAndGlyphs">积为81190立方米，较上周增加1080立方米，按容积计算主要钢铁企业高炉开工率为79.63%，较上周下降0.1%。</text>
<text x="3" y="4226" textLength="355" lengthAdjust="spacingAndGlyphs">影响日铁水量为22.83万吨，较上周增加0.35万吨。</text>
</g>
<text x="3" y="4247" font-size="14" font-weight="bold" fill="#333" textLength="604" lengthAdjust="spacingAndGlyphs">注：自7月21日开始，兰格钢铁网对原样本160家571座高炉样本进行更换，新样本为201家650座。</text>

<use href="#wm" x="233" y="4488"/>
<text x="387" y="4338" text-anchor="middle" font-size="20" font-weight="bold" fill="#444">6月16日唐山钢坯预估需求量</text>
<path d="M418,4498 L356.7,4382.2 A131,131 0 1 0 418,4367 Z" fill="#c00000"/>
<path d="M418,4498 L418,4367 A131,131 0 0 0 356.7,4382.2 Z" fill="#a6a6a6"/>
<text x="400" y="4440" text-anchor="middle" font-size="12" fill="#222">0.4</text>
<text x="445" y="4567" text-anchor="middle" font-size="12" fill="#fff">4.77</text>
<rect x="66" y="4436" width="7" height="9" fill="#c00000"/>
<rect x="66" y="4470" width="7" height="9" fill="#a6a6a6"/>
<rect x="66" y="4503" width="7" height="9" fill="#2f5597"/>
<g font-size="13" fill="#555">
<text x="78" y="4446">型钢日需求</text>
<text x="78" y="4480">145带钢日需求</text>
<text x="78" y="4513">螺纹日需求</text>
</g>

<use href="#wm" x="296" y="4866"/>
<text x="426" y="4721" text-anchor="middle" font-size="17" font-weight="bold" fill="#444">钢坯出厂价与钢坯生产成本均价走势图</text>
<g font-size="8" fill="#666" text-anchor="end">
<text x="91" y="4759">4100</text><text x="91" y="4795.8">3950</text><text x="91" y="4832.6">3800</text><text x="91" y="4869.4">3650</text><text x="91" y="4906.1">3500</text><text x="91" y="4942.9">3350</text><text x="91" y="4979.7">3200</text>
</g>
<line x1="326" y1="4754" x2="350" y2="4754" stroke="#c00000" stroke-width="2.5"/>
<text x="353" y="4757" font-size="9" fill="#777">迁安方坯</text>
<line x1="452" y1="4754" x2="476" y2="4754" stroke="#2f5597" stroke-width="2.5"/>
<text x="478" y="4757" font-size="9" fill="#777">钢坯成本均价</text>
<g stroke="#bbb" stroke-width="1"><line x1="98" y1="4733" x2="98" y2="4977"/><line x1="98" y1="4977" x2="769" y2="4977"/></g>
<g transform="translate(0,4620) scale(0.52679,0.33333)">
<polyline vector-effect="non-scaling-stroke" fill="none" stroke="#c00000" stroke-width="2.2" stroke-linejoin="round" points="187,630 195,625 200,610 220,598 260,575 290,555 298,555 308,620 325,622 350,650 370,652 380,635 390,637 405,657 415,665 430,635 440,590 448,578 475,578 480,532 493,530 498,518 510,540 530,555 545,545 560,518 568,488 578,505 590,525 602,505 610,505 620,465 630,455 655,442 665,430 672,445 680,480 690,482 700,495 720,530 735,555 742,600 750,585 775,585 782,570 800,570 808,555 820,570 835,600 845,630 865,630 875,645 890,665 910,665 920,688 930,673 955,673 965,657 975,672 980,672 990,730 1000,760 1010,800 1018,828 1030,805 1040,820 1048,852 1060,860 1085,868 1110,872 1125,870 1145,857 1150,885 1160,872 1170,922 1180,918 1195,900 1205,893 1215,878 1225,880 1235,910 1250,937 1260,950 1268,937 1275,997 1335,997 1345,970 1355,930 1370,895 1382,870 1390,872 1395,893 1403,875 1410,823 1420,825 1440,843 1445,810 1455,813"/>
<polyline vector-effect="non-scaling-stroke" fill="none" stroke="#2f5597" stroke-width="2.2" stroke-linejoin="round" points="187,590 190,607 295,607 300,612 362,612 370,595 420,595 428,568 480,568 490,552 545,552 550,548 605,548 610,550 665,550 672,496 725,496 732,515 785,515 792,537 905,537 912,578 965,578 972,617 1025,617 1032,654 1145,654 1152,818 1205,818 1212,832 1268,832 1275,890 1328,890 1335,915 1388,915 1395,935 1445,935 1455,942"/>
</g>
<g font-size="7" fill="#777">
<text transform="translate(102,5012) rotate(-90)">1月18日</text>
<text transform="translate(133.8,5012) rotate(-90)">1月25日</text>
<text transform="translate(165.6,5012) rotate(-90)">2月1日</text>
<text transform="translate(197.4,5012) rotate(-90)">2月8日</text>
<text transform="translate(229.2,5012) rotate(-90)">2月15日</text>
<text transform="translate(261,5012) rotate(-90)">2月22日</text>
<text transform="translate(292.8,5012) rotate(-90)">3月1日</text>
<text transform="translate(324.6,5012) rotate(-90)">3月8日</text>
<text transform="translate(356.4,5012) rotate(-90)">3月15日</text>
<text transform="translate(388.2,5012) rotate(-90)">3月22日</text>
<text transform="translate(420,5012) rotate(-90)">3月29日</text>
<text transform="translate(451.8,5012) rotate(-90)">4月5日</text>
<text transform="translate(483.6,5012) rotate(-90)">4月12日</text>
<text transform="translate(515.4,5012) rotate(-90)">4月19日</text>
<text transform="translate(547.2,5012) rotate(-90)">4月26日</text>
<text transform="translate(579,5012) rotate(-90)">5月3日</text>
<text transform="translate(610.8,5012) rotate(-90)">5月10日</text>
<text transform="translate(642.6,5012) rotate(-90)">5月17日</text>
<text transform="translate(674.4,5012) rotate(-90)">5月24日</text>
<text transform="translate(706.2,5012) rotate(-90)">5月31日</text>
<text transform="translate(738,5012) rotate(-90)">6月7日</text>
<text transform="translate(769.8,5012) rotate(-90)">6月14日</text>
</g>
<text x="3" y="5043" font-size="16" fill="#555" textLength="819" lengthAdjust="spacingAndGlyphs">本周（6月14日）唐山地区样本长流程钢厂，钢坯含税累计成本（调研值，不含三费）均值为3376元，周环比降7元</text>
<text x="3" y="5065" font-size="9" fill="#555">。</text>
</svg>
</body></html>
